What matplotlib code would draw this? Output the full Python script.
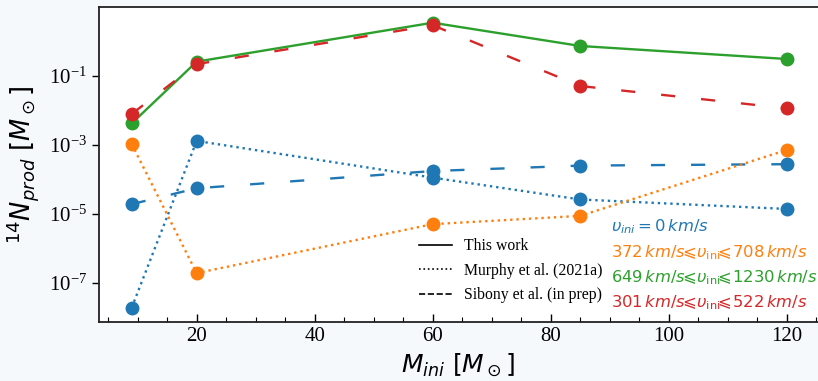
import matplotlib
matplotlib.use("Agg")
import matplotlib.pyplot as plt
from matplotlib.lines import Line2D

plt.rcParams["mathtext.fontset"] = "dejavusans"

# initial masses (Msun)
mass = [9, 20, 60, 85, 120]

# 14N produced (Msun)
n14_v0_murphy = [1.9e-8, 1.3e-3, 1.12e-4, 2.6e-5, 1.38e-5]
n14_v0_sibony = [1.9e-5, 5.5e-5, 1.74e-4, 2.5e-4, 2.75e-4]
n14_orange_murphy = [1.05e-3, 1.9e-7, 5.0e-6, 8.7e-6, 7.1e-4]
n14_green_this = [4.2e-3, 0.26, 3.5, 0.74, 0.31]
n14_red_sibony = [7.9e-3, 0.22, 2.96, 0.051, 0.0115]

LE = r"\!\!\leqslant\!"
vel_labels = [r"$\upsilon_{ini}=0\,km/s$",
              r"$372\,km/s" + LE + r"\upsilon_{\rm ini}" + LE + r"708\,km/s$",
              r"$649\,km/s" + LE + r"\upsilon_{\rm ini}" + LE + r"1230\,km/s$",
              r"$301\,km/s" + LE + r"\upsilon_{\rm ini}" + LE + r"522\,km/s$"]
vel_colors = ["#1f77b4", "#ff7f0e", "#2ca02c", "#d62728"]

W, H = 818, 381
fig = plt.figure(figsize=(W / 100, H / 100), dpi=100, facecolor="#f5f9fc")
ax = fig.add_axes([99 / W, 1 - 322 / H, 1 - 99 / W, (322 - 7) / H])
ax.set_facecolor("white")

dashed = (0, (6, 11))
ms, lw = 9, 1.7
ax.plot(mass, n14_v0_murphy, ls=":", marker="o", color=vel_colors[0], ms=ms, lw=lw)
ax.plot(mass, n14_v0_sibony, ls=dashed, marker="o", color=vel_colors[0], ms=ms, lw=lw)
ax.plot(mass, n14_orange_murphy, ls=":", marker="o", color=vel_colors[1], ms=ms, lw=lw)
ax.plot(mass, n14_green_this, ls="-", marker="o", color=vel_colors[2], ms=ms, lw=lw)
ax.plot(mass, n14_red_sibony, ls=dashed, marker="o", color=vel_colors[3], ms=ms, lw=lw)

ax.set_yscale("log")
ax.set_xlim(3.45, 125.3)
ax.set_ylim(10 ** -8.14, 10 ** 1.0)
ax.set_yticks([1e-1, 1e-3, 1e-5, 1e-7])
ax.yaxis.set_minor_locator(matplotlib.ticker.NullLocator())
ax.set_xticks([20, 40, 60, 80, 100, 120])
ax.xaxis.set_minor_locator(matplotlib.ticker.MultipleLocator(5))
ax.tick_params(axis="x", which="major", direction="in", length=6, width=1)
ax.tick_params(axis="x", which="minor", direction="in", length=3.5, width=0.8)
ax.tick_params(axis="y", which="major", direction="out", length=5, width=1)
ax.tick_params(axis="both", labelsize=15, labelfontfamily="Liberation Serif")
ax.spines["right"].set_visible(False)
for s in ["left", "bottom", "top"]:
    ax.spines[s].set_linewidth(1.3)
    ax.spines[s].set_color("#222222")

ax.set_xlabel(r"$M_{ini}\ [M_\odot]$", fontsize=18, labelpad=4)
ax.set_ylabel(r"$^{14}N_{prod}\ [M_\odot]$", fontsize=18.5, labelpad=6)

handles = [Line2D([], [], color="black", ls="-", lw=1.2),
           Line2D([], [], color="black", ls=":", lw=1.2),
           Line2D([], [], color="black", ls="--", lw=1.2)]
fig.legend(handles, ["This work", "Murphy et al. (2021a)", "Sibony et al. (in prep)"],
           loc="upper left", bbox_to_anchor=(419 / W, 1 - 238 / H), frameon=False,
           prop={"family": "Liberation Serif", "size": 11.3},
           handlelength=2.1, handletextpad=0.75, labelspacing=0.55,
           borderpad=0, borderaxespad=0)

for lab, col, yc in zip(vel_labels, vel_colors, [227, 253, 278, 303]):
    fig.text(611 / W, 1 - yc / H, lab, color=col, fontsize=11.8, ha="left", va="center")

fig.savefig("out.png", dpi=100, facecolor=fig.get_facecolor())
